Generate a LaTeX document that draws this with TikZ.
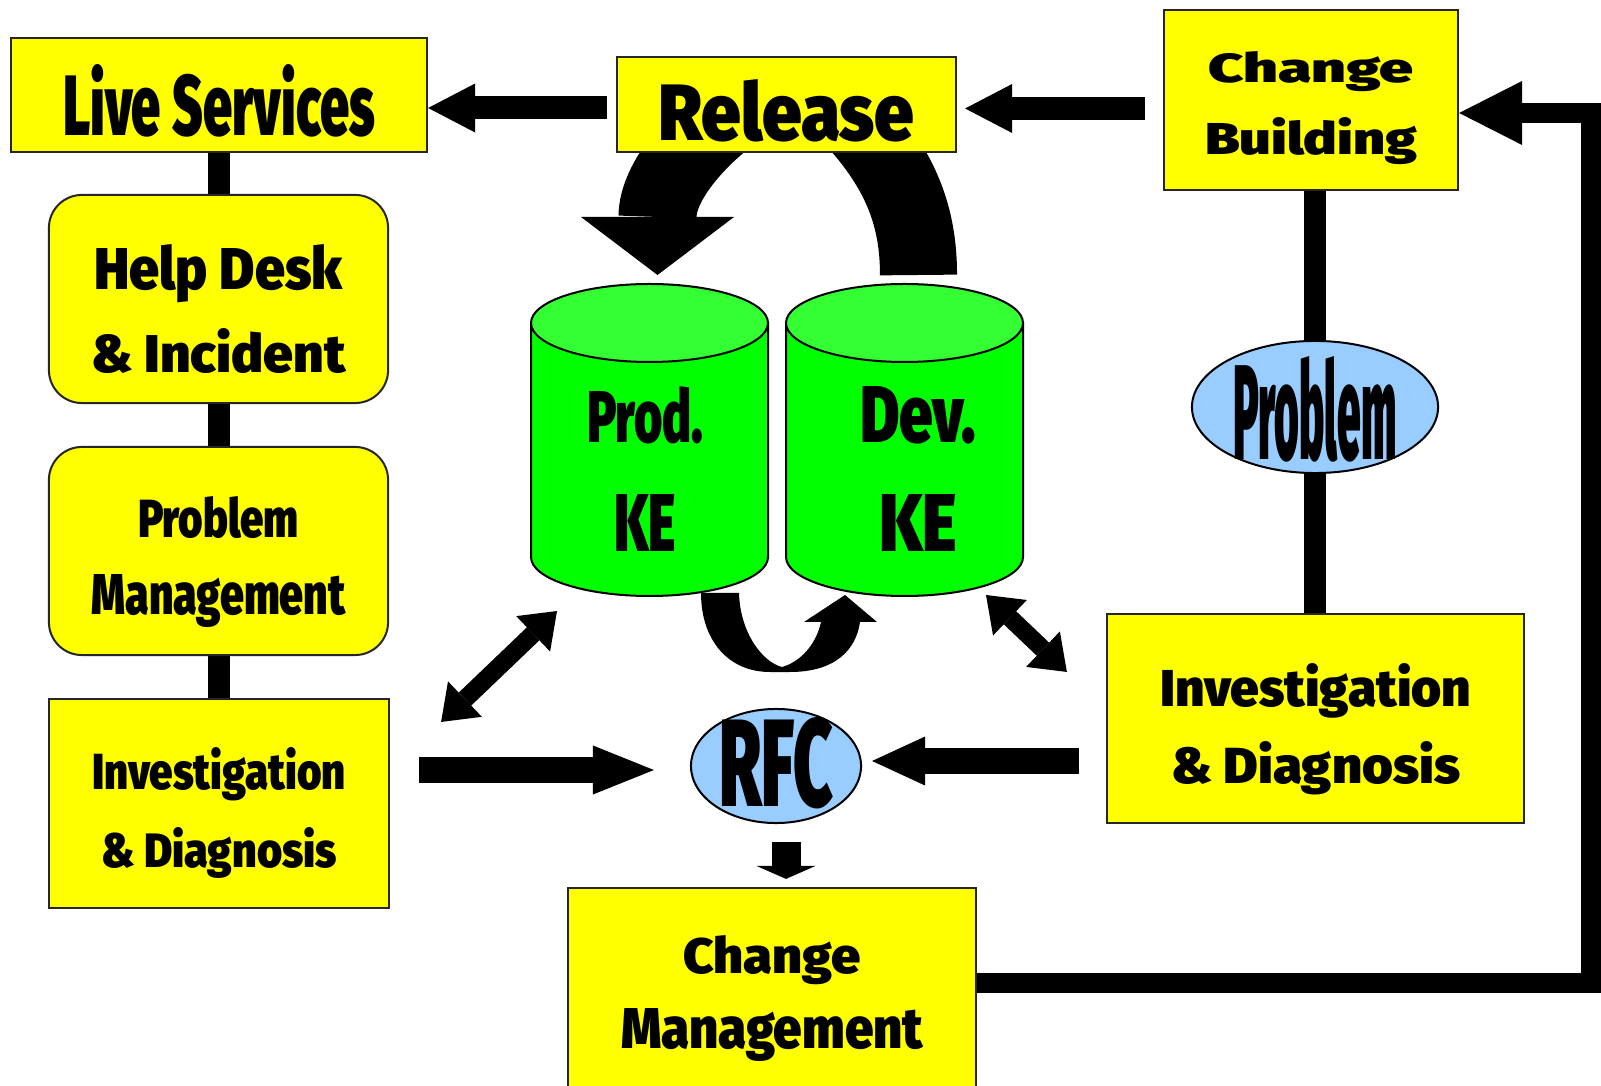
\documentclass[tikz,border=0pt]{standalone}
\usepackage{fontspec}
\usepackage{graphicx}
\newfontfamily\heavy{Fira Sans Black}
\newfontfamily\squash{Fira Sans Black}
\usetikzlibrary{arrows.meta,shapes.geometric,backgrounds}

\definecolor{boxyellow}{HTML}{FFFF00}
\definecolor{ovalblue}{HTML}{99CCFF}
\definecolor{kegreen}{HTML}{00FF00}
\definecolor{ketop}{HTML}{33FF33}

% 1 px of the sketch = 0.01cm
\newlength\px \setlength\px{0.01cm}
\newcommand{\fitto}[3]{\resizebox{#1\px}{#2\px}{#3}}
\newcommand{\ctext}[2]{\raisebox{#1\px}[0pt][0pt]{\makebox[0pt]{#2}}}
\newcommand{\twolines}[2]{\vbox{\baselineskip=#1\px\lineskiplimit=-\maxdimen\halign{\hfil##\hfil\cr#2\crcr}}}

\begin{document}
\begin{tikzpicture}[x=0.01cm,y=-0.01cm,
    box/.style={draw=black!85,line width=0.02cm,fill=boxyellow,inner sep=0pt,font=\heavy},
    roundbox/.style={box,rounded corners=0.33cm},
    oval/.style={ellipse,draw=black,line width=0.02cm,fill=ovalblue,inner sep=0pt,font=\squash},
    link/.style={line width=0.21cm},
    curveband/.style={line width=0.78cm},
    fatarrow/.style={line width=0.23cm,-{Triangle[length=0.47cm,width=0.49cm,line width=0pt]}},
    dblarrow/.style={line width=0.18cm,{Triangle[length=0.33cm,width=0.49cm,line width=0pt]}-{Triangle[length=0.33cm,width=0.49cm,line width=0pt]}},
    looparrow/.style={line width=0.20cm,line join=miter,-{Triangle[length=0.63cm,width=0.64cm,line width=0pt]}},
    cylbody/.style={fill=kegreen,draw=black,line width=0.02cm},
    cyltop/.style={fill=ketop,draw=black,line width=0.02cm}]

  \useasboundingbox (0,0) rectangle (1601,1086);

  % boxes
  \node[box,font=\squash,minimum width=4.16cm,minimum height=1.14cm] (live) at (219,95) {\ctext{-41}{\fitto{312}{71}{Live Services}}};
  \node[box,minimum width=3.39cm,minimum height=0.95cm] (rel) at (786.5,104.5) {\ctext{-36.5}{\fitto{256}{61}{Release}}};
  \node[box,minimum width=2.94cm,minimum height=1.80cm] (build) at (1311,100) {\ctext{-55}{\twolines{72}{\fitto{205}{31}{Change}\cr\fitto{212}{37}{Building}}}};

  \node[roundbox,minimum width=3.39cm,minimum height=2.08cm] (help) at (218.5,299) {\ctext{-74}{\twolines{83}{\fitto{248}{45}{Help Desk}\cr\fitto{254}{44}{\& Incident}}}};
  \node[roundbox,font=\squash,minimum width=3.39cm,minimum height=2.08cm] (pm) at (218.5,551) {\ctext{-64}{\twolines{77}{\fitto{161}{41}{Problem}\cr\fitto{254}{40}{Management}}}};
  \node[box,font=\squash,minimum width=3.40cm,minimum height=2.09cm] (invl) at (219,803.5) {\ctext{-63.5}{\twolines{77}{\fitto{254}{42}{Investigation}\cr\fitto{236}{40}{\& Diagnosis}}}};

  \node[box,minimum width=4.17cm,minimum height=2.09cm] (invr) at (1315.5,718.5) {\ctext{-64.5}{\twolines{77}{\fitto{311}{43}{Investigation}\cr\fitto{289}{42}{\& Diagnosis}}}};
  \node[box,minimum width=4.08cm,minimum height=2.08cm] (cm) at (772,992) {\ctext{-56}{\twolines{75}{\fitto{177}{38}{Change}\cr\fitto{302}{40}{Management}}}};

  \node[oval,minimum width=2.46cm,minimum height=1.32cm] (prob) at (1315,407) {\ctext{-53}{\fitto{163}{103}{Problem}}};
  \node[oval,minimum width=1.70cm,minimum height=1.14cm] (rfc) at (776,766) {\ctext{-41}{\fitto{114}{89}{RFC}}};

  % the two knowledge bases
  \path[cylbody] (531,323) -- (531,557) arc[start angle=180,end angle=0,x radius=118.5,y radius=39] -- (768,323) -- cycle;
  \path[cyltop] (649.5,323) ellipse[x radius=118.5,y radius=39];
  \path[cylbody] (786,323) -- (786,557) arc[start angle=180,end angle=0,x radius=118.5,y radius=39] -- (1023,323) -- cycle;
  \path[cyltop] (904.5,323) ellipse[x radius=118.5,y radius=39];
  \coordinate (prodtop) at (649.5,284);
  \coordinate (prodbot) at (649.5,596);
  \coordinate (devtop) at (904.5,284);
  \coordinate (devbot) at (904.5,596);
  \node[font=\squash,inner sep=0pt] (prod) at (645,469) {\ctext{-82}{\twolines{108}{\fitto{116}{56}{Prod.}\cr\fitto{62}{57}{KE}}}};
  \node[font=\squash,inner sep=0pt] (dev) at (918,469) {\ctext{-82}{\twolines{108}{\fitto{116}{56}{Dev.}\cr\fitto{78}{57}{KE}}}};

  % connectors behind the boxes
  \begin{scope}[on background layer]
    \fill[white] (0,0) rectangle (1601,1086);
    \draw[link] (live.south) -- (invl.north);
    \draw[link,line width=0.22cm] (prob |- build.south) -- (prob |- invr.north);
    \draw[curveband,-{Triangle[length=0.58cm,width=1.53cm,line width=0pt]}] ([shift={(-51.5,5.5)}]rel.center) .. controls +(-35,25) and +(0,-95) .. ([shift={(8,-9)}]prodtop);
    \draw[curveband,line width=0.77cm] ([shift={(14,-9)}]devtop) .. controls +(0,-60) and +(45,50) .. ([shift={(68.5,15.5)}]rel.center);
  \end{scope}

  % turn from Prod. KE over to Dev. KE
  \fill (701,593) .. controls (701,640) and (728,672) .. (770,672) -- (790,672)
    .. controls (835,672) and (856,650) .. (860,622) -- (877,622) -- (845,595) -- (804,622) -- (821,622)
    .. controls (816,645) and (800,662) .. (782,667) .. controls (762,662) and (740,632) .. (739,593) -- cycle;

  % block arrows
  \coordinate (relout) at ([shift={(-9,3.5)}]rel.west);
  \draw[fatarrow] (relout) -- (relout -| live.east);
  \coordinate (buildout) at ([shift={(-18,8.5)}]build.west);
  \draw[fatarrow,shorten >=0.08cm] (buildout) -- (buildout -| rel.east);

  \coordinate (invlout) at ([shift={(29,-33.5)}]invl.east);
  \draw[line width=0.25cm,shorten >=0.36cm,-{Triangle[length=0.61cm,width=0.49cm,line width=0pt]}] (invlout) -- (invlout -| rfc.west);
  \coordinate (invrout) at ([shift={(-27,42.5)}]invr.west);
  \draw[line width=0.26cm,shorten >=0.10cm,-{Triangle[length=0.53cm,width=0.49cm,line width=0pt]}] (invrout) -- (invrout -| rfc.east);
  \coordinate (rfcout) at ([shift={(10,18)}]rfc.south);
  \draw[line width=0.29cm,shorten >=0.08cm,-{Triangle[length=0.13cm,width=0.59cm,line width=0pt]}] (rfcout) -- (rfcout |- cm.north);

  \draw[dblarrow] ([shift={(51,24)}]invl.north east) -- ([shift={(-92.5,15)}]prodbot);
  \draw[dblarrow] ([shift={(81.5,-1)}]devbot) -- ([shift={(-39,59)}]invr.north west);

  \coordinate (cmout) at ([shift={(0,-9)}]cm.east);
  \coordinate (loopcorner) at (1591,113);
  \draw[looparrow] (cmout) -| (loopcorner) -- (loopcorner -| build.east);
\end{tikzpicture}
\end{document}
